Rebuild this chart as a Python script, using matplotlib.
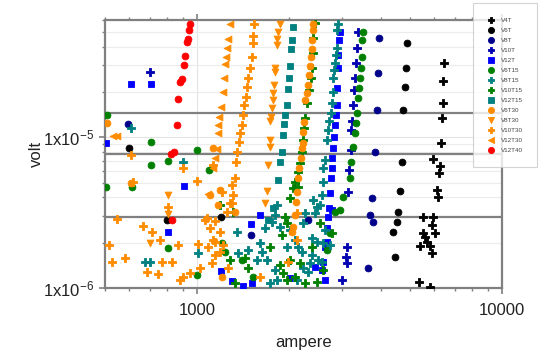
import matplotlib
matplotlib.use('agg')
import matplotlib.pyplot as plt
import numpy as np

plt.rcParams['font.family'] = ['Liberation Sans', 'DejaVu Sans']
plt.rcParams['mathtext.default'] = 'regular'

# current in ampere, voltage in microvolt
v4t_amp = [6458, 6410, 6410, 6362, 6314, 5944, 6267, 6220, 6126, 6173, 5513, 5944,
           5899, 6034, 5513, 5596, 5680, 5388, 5810, 5899, 5347, 5810]
v4t_uv = [31.3, 23.5, 17.0, 13.4, 9.12, 7.14, 6.43, 5.77, 4.46, 4.00, 2.95, 2.95,
          2.61, 2.31, 2.31, 2.18, 2.02, 1.90, 1.90, 1.71, 1.10, 1.02]

v6t_amp = [4884, 4848, 4811, 4739, 4703, 4633, 4563, 4529, 4394, 4461, 1199, 797, 598]
v6t_uv = [41.9, 29.0, 21.4, 15.1, 6.82, 4.39, 3.19, 2.73, 2.35, 1.60, 2.95, 2.82, 8.45]

v8t_amp = [3953, 3924, 3894, 3836, 3750, 3693, 3778, 3638, 594, 1503, 2313]
v8t_uv = [45.8, 26.5, 15.1, 7.95, 3.94, 3.04, 2.73, 1.36, 12.2, 2.24, 2.82]

v10t_amp = [3373, 3348, 3323, 3298, 3273, 3248, 3224, 3200, 3200, 3152, 3128, 3105,
            3081, 3105, 2989, 701]
v10t_uv = [49.6, 39.4, 31.3, 24.9, 20.5, 16.3, 12.9, 11.1, 8.19, 6.05, 4.32, 1.87,
           1.60, 1.46, 1.13, 27.0]

v12t_amp = [2945, 2923, 2901, 2901, 2879, 2879, 2857, 2836, 2814, 2793, 2772, 2772,
            2751, 2730, 2709, 2689, 2669, 2628, 2589, 2570, 608, 707, 504, 906, 803,
            1199, 1302, 1416, 1503, 1609, 2018, 2438, 2669, 2772, 2628, 1515]
v12t_uv = [49.6, 43.9, 35.0, 28.6, 21.1, 16.3, 14.0, 12.0, 10.0, 8.45, 7.26, 6.23,
           5.35, 4.26, 3.39, 2.95, 2.50, 1.87, 1.49, 1.32, 22.4, 22.4, 9.12, 4.74, 2.35,
           1.30, 1.11, 1.03, 2.65, 3.04, 1.16, 1.38, 2.02, 3.28, 1.13, 1.08]

v6t15_amp = [3503, 3477, 3477, 3451, 3425, 3399, 3373, 3348, 3323, 3298, 3248, 3200,
             3176, 3012, 2945, 2836, 2730, 2669, 507, 707, 803, 707, 1000, 1095, 504,
             612, 803, 1000, 1208, 1235, 1405, 1526]
v6t15_uv = [50.3, 43.9, 33.9, 28.6, 24.9, 21.1, 18.1, 14.4, 12.4, 10.6, 8.59, 6.82,
            5.35, 4.00, 3.28, 3.19, 2.31, 1.78, 14.0, 9.26, 6.93, 6.52, 8.19, 6.05, 4.67,
            4.67, 1.84, 1.22, 1.99, 1.73, 1.53, 1.18]

v8t15_amp = [2901, 2879, 2879, 2857, 2836, 2814, 2793, 2793, 2772, 2751, 2709, 2689,
             2669, 2628, 2589, 2589, 2570, 2532, 2401, 2475, 2438, 2261, 2227, 2383,
             2475, 2628, 2589, 2730, 2570, 2494, 2348, 2383, 2210, 2144, 1973, 2096,
             2018, 1872, 1830, 1802, 1762, 1671, 1609, 1634, 1573, 1697, 1802, 1830,
             1736, 2227, 2313, 2128, 1470, 1363, 1353, 1008, 608, 900, 676, 701]
v8t15_uv = [56.8, 51.1, 39.4, 35.0, 31.3, 27.8, 24.9, 19.9, 17.0, 14.6, 12.9, 11.1,
            9.55, 7.04, 6.23, 5.04, 4.13, 3.55, 3.82, 3.44, 3.14, 3.14, 2.69, 2.14,
            2.02, 2.42, 1.99, 1.93, 1.49, 1.53, 1.46, 1.65, 1.73, 1.87, 1.87, 2.08,
            2.42, 2.53, 3.55, 3.04, 2.73, 2.50, 1.99, 1.73, 1.53, 1.53, 1.32, 1.13,
            1.08, 1.36, 1.28, 1.13, 1.78, 1.71, 2.35, 1.71, 11.6, 6.82, 1.49, 1.49]

v10t15_amp = [2438, 2401, 2401, 2383, 2365, 2330, 2295, 2261, 2244, 2227, 2210, 2177,
              2144, 2096, 2065, 2144, 2018, 1944, 1973, 1900, 1736, 2018, 1872, 1914,
              1973, 2096, 2177, 2383, 2532, 2589, 2772, 2261, 2475, 1190, 1283, 1437,
              1470, 1312, 1332]
v10t15_uv = [57.6, 45.8, 36.5, 29.0, 24.6, 20.5, 16.8, 13.4, 11.5, 9.55, 7.95, 6.73,
             5.86, 5.04, 4.59, 4.67, 3.94, 2.95, 2.69, 2.24, 1.87, 1.53, 1.42, 1.26,
             1.13, 1.18, 1.46, 1.87, 2.69, 1.32, 2.31, 1.08, 1.10, 3.55, 1.53, 1.58,
             1.36, 3.19, 1.08]

v12t15_amp = [2065, 2049, 2033, 2018, 2003, 1988, 1973, 1944, 1929, 1914, 1900, 1872,
              1844, 1775, 1710]
v12t15_uv = [53.5, 43.9, 38.8, 29.9, 24.9, 20.8, 16.3, 14.0, 12.2, 10.3, 7.95, 6.82,
             5.19, 3.39, 2.82]

v6t30_amp = [2401, 2401, 2383, 2383, 2365, 2348, 2330, 2313, 2295, 2261, 2244, 2227,
             2227, 2210, 2193, 2160, 2144, 2128, 2112, 2096, 2065, 2049, 507, 608,
             1103, 1190, 1172, 1332, 1208, 1129]
v6t30_uv = [56.8, 51.1, 43.9, 38.8, 33.9, 29.9, 25.7, 22.1, 19.6, 17.6, 12.6, 10.8,
            9.12, 8.45, 7.26, 6.23, 5.35, 4.32, 3.71, 3.04, 2.53, 2.35, 12.4, 4.96,
            4.13, 4.46, 3.55, 3.19, 1.18, 8.45]

v8t30_amp = [1872, 1844, 1830, 1830, 1802, 1802, 1789, 1775, 1775, 1762, 1749, 1736,
             1736, 1736, 1710, 1697, 1671, 803, 803, 701]
v8t30_uv = [56.8, 49.6, 45.2, 40.7, 29.0, 27.0, 22.1, 19.6, 17.6, 15.6, 13.6, 12.9,
            9.55, 8.59, 6.52, 4.39, 3.66, 4.13, 3.09, 1.99]

v10t30_amp = [1538, 1526, 1526, 1515, 1492, 1470, 1459, 1448, 1427, 1416, 1405, 1384,
              1374, 1353, 1343, 1332, 1312, 1302, 608, 617, 1000, 1129, 803, 547, 665,
              712, 756, 515, 526, 581, 768, 828, 686, 745, 880, 948, 1008, 1078, 1146,
              1103, 1190, 1217, 1146, 1190, 1120, 1264, 1208, 1302, 1283, 1254, 1062,
              1129, 1086, 1146, 1023, 900, 1609, 2128, 1988, 2128, 900, 866]
v10t30_uv = [56.8, 47.3, 41.9, 33.9, 28.6, 24.6, 21.4, 18.4, 16.3, 14.0, 12.0, 10.6,
             9.26, 7.95, 6.82, 5.35, 4.13, 3.66, 7.59, 5.04, 5.11, 6.52, 3.44, 2.86, 2.57,
             2.35, 2.08, 1.93, 1.49, 1.58, 1.49, 1.49, 1.28, 1.24, 1.13, 1.26, 1.96, 2.91,
             2.78, 2.50, 2.35, 1.93, 2.02, 1.73, 1.46, 1.36, 4.32, 4.81, 3.66, 3.19, 2.82,
             2.08, 1.87, 1.65, 1.36, 1.18, 1.18, 3.14, 1.49, 2.08, 6.23, 1.93]

v12t30_amp = [1283, 1264, 1254, 1245, 1235, 1226, 1217, 1199, 1181, 1172, 1172, 1163,
              1146, 1129, 530, 547, 1086]
v12t30_uv = [56.8, 45.2, 39.4, 33.9, 30.4, 24.9, 19.9, 15.8, 13.6, 12.0, 10.6, 8.32,
             7.26, 6.23, 10.2, 10.2, 4.19]

v12t40_amp = [948, 944, 936, 929, 918, 906, 895, 880, 866, 858, 841, 822, 826]
v12t40_uv = [56.6, 51.1, 45.0, 42.8, 34.4, 30.0, 24.5, 23.2, 18.0, 12.0, 8.0, 7.7, 2.82]

# horizontal reference levels (microvolt)
ref_levels = [14.6, 7.8, 2.95]

series = [
    ("V4T", v4t_amp, v4t_uv, "P", "#000000"),
    ("V6T", v6t_amp, v6t_uv, "o", "#000000"),
    ("V8T", v8t_amp, v8t_uv, "o", "#00008B"),
    ("V10T", v10t_amp, v10t_uv, "P", "#0000B0"),
    ("V12T", v12t_amp, v12t_uv, "s", "#0000FF"),
    ("V6T15", v6t15_amp, v6t15_uv, "o", "#008000"),
    ("V8T15", v8t15_amp, v8t15_uv, "P", "#008080"),
    ("V10T15", v10t15_amp, v10t15_uv, "P", "#008000"),
    ("V12T15", v12t15_amp, v12t15_uv, "s", "#008080"),
    ("V6T30", v6t30_amp, v6t30_uv, "o", "#FF8C00"),
    ("V8T30", v8t30_amp, v8t30_uv, "v", "#FF8C00"),
    ("V10T30", v10t30_amp, v10t30_uv, "P", "#FF8C00"),
    ("V12T30", v12t30_amp, v12t30_uv, "<", "#FF8C00"),
    ("V12T40", v12t40_amp, v12t40_uv, "o", "#FF0000"),
]

fig = plt.figure(figsize=(5.4, 3.55), dpi=100)
ax = fig.add_axes([0.1944, 0.1887, 0.7352, 0.755])

for lv in ref_levels:
    ax.axhline(lv * 1e-6, color="#808080", lw=1.6, zorder=1.5)

for label, amp, uv, mk, col in series:
    size = 30 if mk == "P" else 24
    ax.scatter(amp, np.array(uv) * 1e-6, marker=mk, color=col, s=size,
               edgecolors=col, linewidths=0.6, label=label, zorder=3)

ax.set_xscale("log")
ax.set_yscale("log")
ax.set_xlim(500, 10000)
ax.set_ylim(1e-6, 6e-5)

ax.set_xticks([1000, 10000])
ax.set_xticklabels(["1000", "10000"])
ax.set_yticks([1e-6, 1e-5])
ax.set_yticklabels([r"1x10$^{-6}$", r"1x10$^{-5}$"])

ax.grid(True, which="major", color="#e4e4e4", lw=0.8, zorder=0)
ax.grid(True, which="minor", axis="y", color="#ececec", lw=0.8, zorder=0)
ax.set_axisbelow(True)

for sp in ax.spines.values():
    sp.set_color("#808080")
    sp.set_linewidth(1.6)

ax.tick_params(which="both", direction="out", color="#808080", labelsize=12,
               labelcolor="#222222")
ax.tick_params(which="major", length=4, width=1.2, pad=7)
ax.tick_params(axis="y", which="major", pad=4)
ax.tick_params(which="minor", length=2.5, width=1)
ax.tick_params(axis="x", which="both", top=True)
ax.tick_params(axis="y", which="minor", labelleft=False)
ax.tick_params(axis="x", which="minor", labelbottom=False)

ax.set_xlabel("ampere", fontsize=12, color="#222222", labelpad=12)
ax.set_ylabel("volt", fontsize=12, color="#222222", labelpad=-1)

leg = ax.legend(loc="upper left", bbox_to_anchor=(473 / 540, 1 - 3 / 355),
                bbox_transform=fig.transFigure, fontsize=4.5, frameon=True,
                fancybox=False, edgecolor="#c8c8c8", borderpad=2.3,
                labelspacing=0.74, handlelength=1.2, handletextpad=0.9,
                borderaxespad=0, markerscale=0.9, scatterpoints=1)
leg.get_frame().set_linewidth(0.8)
for t in leg.get_texts():
    t.set_color("#444444")

fig.savefig("out.png", dpi=100)
